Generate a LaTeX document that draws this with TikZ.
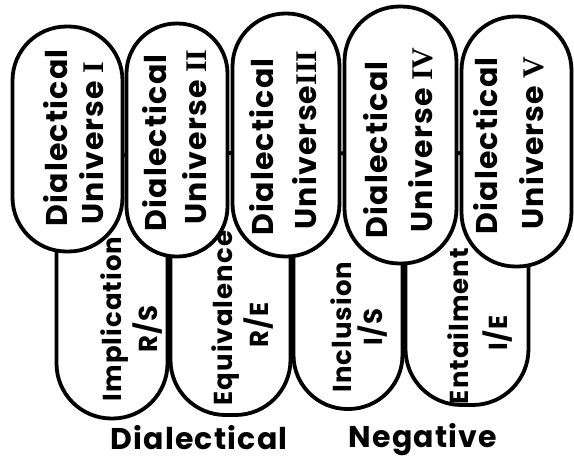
\documentclass[tikz,border=0pt]{standalone}
\usepackage{fontspec}
\newfontfamily\handfont[LetterSpace=4]{Poppins}
\newfontfamily\numfont{Liberation Serif}
\begin{document}
\begin{tikzpicture}[x=1pt,y=-1pt,
  outl/.style={draw, line width=3.8pt, fill=white, rectangle, inner sep=0pt},
  big/.style={font=\handfont\bfseries\fontsize{30}{36}\selectfont, inner sep=0pt, rotate=90},
  small/.style={font=\handfont\bfseries\fontsize{26}{30}\selectfont, inner sep=0pt, rotate=90},
  lab/.style={font=\handfont\bfseries\fontsize{30}{36}\selectfont, inner sep=0pt}]
\useasboundingbox (0,0) rectangle (574,464);
% bottom row (tops hidden behind the top row)
\node[outl, minimum width=111pt, minimum height=265pt, rounded corners=55pt] (impl) at (112,286) {};
\node[outl, minimum width=120pt, minimum height=262pt, rounded corners=55pt] (equi) at (230.5,284) {};
\node[outl, minimum width=109pt, minimum height=256pt, rounded corners=54pt] (incl) at (348,281) {};
\node[outl, minimum width=123pt, minimum height=252pt, rounded corners=56pt] (enta) at (467,279) {};
% top row
\node[outl, minimum width=110pt, minimum height=225pt, rounded corners=54pt] (u1) at (67.5,139) {};
\node[outl, minimum width=101pt, minimum height=233pt, rounded corners=50pt] (u2) at (177,140) {};
\node[outl, minimum width=107pt, minimum height=243pt, rounded corners=53pt] (u3) at (286,135) {};
\node[outl, minimum width=112pt, minimum height=257pt, rounded corners=55pt] (u4) at (400.5,135) {};
\node[outl, minimum width=110pt, minimum height=250pt, rounded corners=54pt] (u5) at (516.5,141.5) {};
% top texts
\node[big] (u1a) at (56,138) {Dialectical};
\node[big] (u1b) at (92,143) {Universe {\numfont I}};
\node[big] (u2a) at (155,143) {Dialectical};
\node[big] (u2b) at (195,137) {Universe {\numfont II}};
\node[big] (u3a) at (262,147) {Dialectical};
\node[big] (u3b) at (305,140) {Universe{\numfont III}};
\node[big] (u4a) at (376,150) {Dialectical};
\node[big] (u4b) at (421,140) {Universe {\numfont IV}};
\node[big] (u5a) at (486,146) {Dialectical};
\node[big] (u5b) at (532,143) {Universe {\numfont V}};
% bottom texts
\node[small] (t1a) at (115,319) {Implication};
\node[small] (t1b) at (148,329) {R/S};
\node[small] (t2a) at (226,318) {Equivalence};
\node[small] (t2b) at (259,325) {R/E};
\node[small] (t3a) at (341,327) {Inclusion};
\node[small] (t3b) at (373,327) {I/S};
\node[small] (t4a) at (458,326) {Entailment};
\node[small] (t4b) at (498,333) {I/E};
% caption
\node[lab] (c1) at (199,438) {Dialectical};
\node[lab] (c2) at (423,440) {Negative};
\end{tikzpicture}
\end{document}
